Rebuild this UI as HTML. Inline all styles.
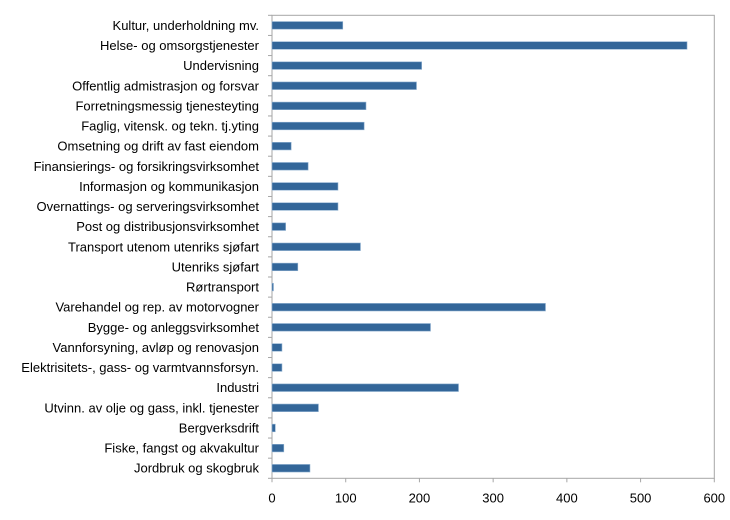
<!DOCTYPE html>
<html><head><meta charset="utf-8"><style>
html,body{margin:0;padding:0;background:#fff}
svg{display:block;font-family:"Liberation Sans",Arial,sans-serif}
</style></head><body>
<svg id="chart" width="730" height="520"></svg>
<script>
const categories=["Kultur, underholdning mv.","Helse- og omsorgstjenester","Undervisning","Offentlig admistrasjon og forsvar","Forretningsmessig tjenesteyting","Faglig, vitensk. og tekn. tj.yting","Omsetning og drift av fast eiendom","Finansierings- og forsikringsvirksomhet","Informasjon og kommunikasjon","Overnattings- og serveringsvirksomhet","Post og distribusjonsvirksomhet","Transport utenom utenriks sjøfart","Utenriks sjøfart","Rørtransport","Varehandel og rep. av motorvogner","Bygge- og anleggsvirksomhet","Vannforsyning, avløp og renovasjon","Elektrisitets-, gass- og varmtvannsforsyn.","Industri","Utvinn. av olje og gass, inkl. tjenester","Bergverksdrift","Fiske, fangst og akvakultur","Jordbruk og skogbruk"];
const values=[96,563,203,196,127.5,125,26,49,89.5,89.5,18.5,120,35,2,371,215,13.5,13.5,253,63,4.5,16,51.5];
const ticks=[0,100,200,300,400,500,600];
</script>
<script>
const svg=document.getElementById('chart');
const NS='http://www.w3.org/2000/svg';
const X0=272,X1=714.3,Y0=15.3,Y1=478.3,MAX=600;
const n=categories.length;
const rowH=(Y1-Y0)/n;
function xs(v){return X0+(v/MAX)*(X1-X0);}
function yc(i){return Y0+rowH*(i+0.5);}
function mk(t,a){const e=document.createElementNS(NS,t);for(const k in a)e.setAttribute(k,a[k]);svg.appendChild(e);return e;}
// frame
const fr=mk('rect',{x:X0,y:Y0,width:X1-X0,height:Y1-Y0,fill:'none',stroke:'#a6a6a6','stroke-width':1});


// y ticks
for(let i=0;i<=n;i++){
  const y=Y0+rowH*i;
  const t=mk('line',{x1:X0-4,x2:X0,y1:y,y2:y,stroke:'#a6a6a6'});
  
  
}
// x ticks + labels
ticks.forEach(v=>{
  const x=xs(v);
  const t=mk('line',{x1:x,x2:x,y1:Y1,y2:Y1+4,stroke:'#a6a6a6'});
  
  
  const l=mk('text',{x:x,y:Y1+24,'text-anchor':'middle','font-size':13,fill:'#000'});
  l.textContent=v;
  
  
});
// bars + labels
categories.forEach((c,i)=>{
  const y=yc(i);
  const b=mk('rect',{x:X0,y:y-3.8,width:xs(values[i])-X0,height:7.6,fill:'#336699',stroke:'#8fb0d0','stroke-width':0.6});
  
  
  const l=mk('text',{x:259,y:y+4.5,'text-anchor':'end','font-size':13,fill:'#000'});
  l.textContent=c;
  
  
});
</script>
</body></html>
